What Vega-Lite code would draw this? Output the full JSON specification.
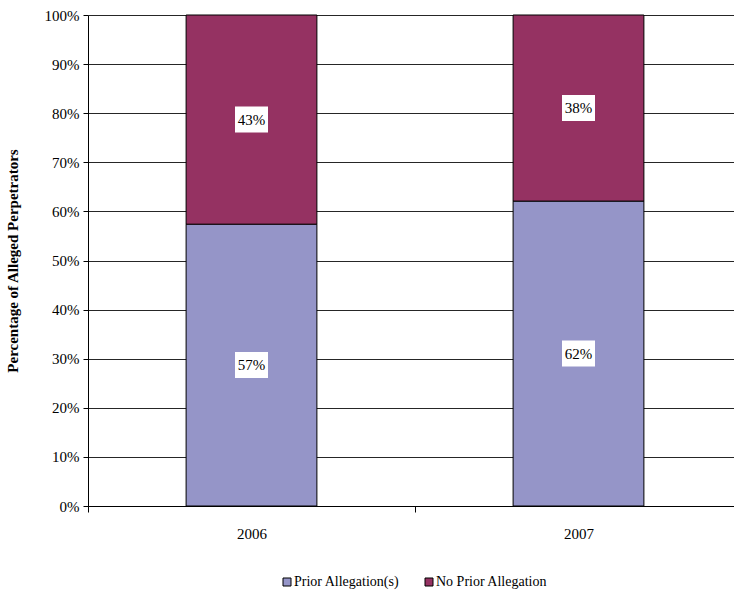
{
  "$schema": "https://vega.github.io/schema/vega-lite/v6.json",
  "autosize": {"type": "none"},
  "padding": {"left": 88, "top": 15, "right": 0, "bottom": 90},
  "width": 654,
  "height": 491,
  "background": "white",
  "config": {
    "view": {"stroke": null},
    "font": "Liberation Serif",
    "axisY": {
      "titleFontSize": 15, "titleFontWeight": "bold", "titlePadding": 24,
      "format": ".0%", "values": [0,0.1,0.2,0.3,0.4,0.5,0.6,0.7,0.8,0.9,1],
      "labelFontSize": 15, "labelPadding": 4, "tickSize": 5, "tickColor": "#000",
      "labelOverlap": false,
      "domainColor": "#000", "grid": true, "gridColor": "#000", "gridOpacity": 0.85
    },
    "axis": {"labelFont": "Liberation Serif", "titleFont": "Liberation Serif", "labelColor": "#000", "titleColor": "#000"}
  },
  "data": {
    "values": [
      {"year": "2006", "category": "Prior Allegation(s)", "order": 1, "share": 0.574},
      {"year": "2006", "category": "No Prior Allegation", "order": 2, "share": 0.426},
      {"year": "2007", "category": "Prior Allegation(s)", "order": 1, "share": 0.621},
      {"year": "2007", "category": "No Prior Allegation", "order": 2, "share": 0.379}
    ]
  },
  "transform": [
    {"stack": "share", "groupby": ["year"], "sort": [{"field": "order", "order": "ascending"}], "as": ["s0", "s1"]},
    {"calculate": "(datum.s0 + datum.s1) / 2", "as": "mid"}
  ],
  "encoding": {
    "x": {
      "field": "year", "type": "nominal",
      "scale": {"paddingInner": 0, "paddingOuter": 0},
      "axis": {
        "title": null, "labelAngle": 0, "labelFontSize": 15, "labelPadding": 14,
        "tickBand": "extent", "tickSize": 6, "tickColor": "#000", "domainColor": "#000",
        "grid": false
      }
    }
  },
  "layer": [
    {
      "mark": {"type": "bar", "width": {"band": 0.4}, "stroke": "#000", "strokeWidth": 1},
      "encoding": {
        "y": {
          "field": "s0", "type": "quantitative",
          "scale": {"domain": [0, 1]},
          "title": "Percentage of Alleged Perpetrators"
        },
        "y2": {"field": "s1"},
        "color": {
          "field": "category", "type": "nominal",
          "scale": {"domain": ["Prior Allegation(s)", "No Prior Allegation"], "range": ["#9595C8", "#953262"]},
          "legend": {
            "title": null, "orient": "none", "direction": "horizontal",
            "legendX": 192, "legendY": 560,
            "symbolType": "square", "symbolSize": 64, "symbolStrokeColor": "#000", "symbolStrokeWidth": 1,
            "labelFont": "Liberation Serif", "labelFontSize": 14, "labelColor": "#000",
            "columnPadding": 22, "symbolOffset": 0, "labelOffset": 0
          }
        },
        "order": {"field": "order"}
      }
    },
    {
      "mark": {"type": "point", "shape": "M-1,-0.79H1V0.79H-1Z", "size": 1089, "filled": true, "color": "white", "opacity": 1},
      "encoding": {
        "y": {"field": "mid", "type": "quantitative", "title": "Percentage of Alleged Perpetrators"}
      }
    },
    {
      "mark": {"type": "text", "font": "Liberation Serif", "fontSize": 15, "color": "#000"},
      "encoding": {
        "y": {"field": "mid", "type": "quantitative", "title": "Percentage of Alleged Perpetrators"},
        "text": {"field": "share", "type": "quantitative", "format": ".0%"}
      }
    }
  ]
}
